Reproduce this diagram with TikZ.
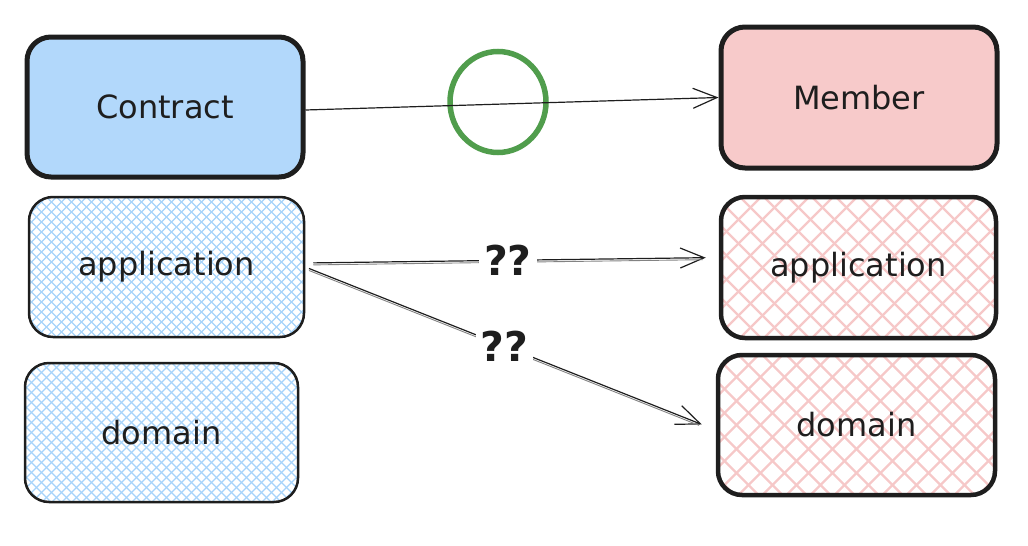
\documentclass[tikz,border=0pt]{standalone}
\usepackage{fontspec}
\setmainfont{DejaVu Sans}
\usetikzlibrary{arrows.meta,calc,shapes.geometric}
\definecolor{ink}{HTML}{1E1E1E}
\definecolor{bluefill}{RGB}{178,216,251}
\definecolor{pinkfill}{RGB}{247,202,202}
\definecolor{bluehatch}{RGB}{166,211,250}
\definecolor{pinkhatch}{RGB}{246,200,200}
\definecolor{okgreen}{RGB}{80,157,76}
\begin{document}
\begin{tikzpicture}[x=1pt,y=-1pt,
  box/.style={rectangle, draw=ink, rounded corners=24pt, inner sep=0pt,
    text=ink, font=\fontsize{32}{38}\selectfont},
  solidbox/.style={box, line width=5pt},
  bhatch/.style={box, line width=2.5pt, path picture={
    \foreach \d in {-240,-230,...,240}{
      \draw[bluehatch,line width=1.2pt] ([xshift=\d pt]path picture bounding box.center) +(-90pt,-90pt) -- +(90pt,90pt);
      \draw[bluehatch,line width=1.2pt] ([xshift=\d pt]path picture bounding box.center) +(-90pt,90pt) -- +(90pt,-90pt);
    }}},
  phatch/.style={box, line width=4.5pt, path picture={
    \foreach \d in {-240,-216,...,240}{
      \draw[pinkhatch,line width=2.3pt] ([xshift=\d pt]path picture bounding box.center) +(-90pt,-90pt) -- +(90pt,90pt);
      \draw[pinkhatch,line width=2.3pt] ([xshift=\d pt]path picture bounding box.center) +(-90pt,90pt) -- +(90pt,-90pt);
    }}},
  arr/.style={draw=ink, line width=1.2pt, -{Straight Barb[length=24pt,width=20pt]}},
  ghost/.style={draw=ink!55, line width=0.9pt},
  qq/.style={fill=white, text=ink, inner sep=5pt, font=\bfseries\fontsize{41}{45}\selectfont}
]
\useasboundingbox (0,0) rectangle (1028,546);

% boxes
\node[solidbox, fill=bluefill, minimum width=276pt, minimum height=140pt] (contract) at (165,107) {Contract};
\node[solidbox, fill=pinkfill, minimum width=276pt, minimum height=141pt] (member) at (859,97.5) {Member};
\node[bhatch, minimum width=275pt, minimum height=140pt] (lapp) at (166.5,267) {application};
\node[bhatch, minimum width=273pt, minimum height=139pt] (ldom) at (161.5,432.5) {domain};
\node[phatch, minimum width=275pt, minimum height=141pt] (rapp) at (858.5,267.5) {application};
\node[phatch, minimum width=277pt, minimum height=140pt] (rdom) at (856.5,425) {domain};

% green circle
\node[draw=okgreen, line width=5.5pt, ellipse, minimum width=96pt, minimum height=101pt, inner sep=0pt] (ok) at (498,102) {};

% arrows
\draw[arr] ([yshift=-3pt]contract.east) -- (member.west);

\draw[arr, shorten <=8pt, shorten >=13pt] ([yshift=4pt]lapp.east) -- ([yshift=10pt]rapp.west);
\draw[ghost, shorten <=8pt, shorten >=16pt] ([yshift=2pt]lapp.east) -- ([yshift=8pt]rapp.west);

\draw[arr, shorten <=4pt, shorten >=15pt] (lapp.east) -- ([yshift=-5pt]rdom.west);
\draw[ghost, shorten <=4pt, shorten >=18pt] ([yshift=-2pt]lapp.east) -- ([yshift=-7pt]rdom.west);

\path ([yshift=4pt]lapp.east) -- ([yshift=10pt]rapp.west) node[qq, pos=0.49] (q1) {??};
\path (lapp.east) -- ([yshift=-5pt]rdom.west) node[qq, pos=0.485] (q2) {??};
\end{tikzpicture}
\end{document}
